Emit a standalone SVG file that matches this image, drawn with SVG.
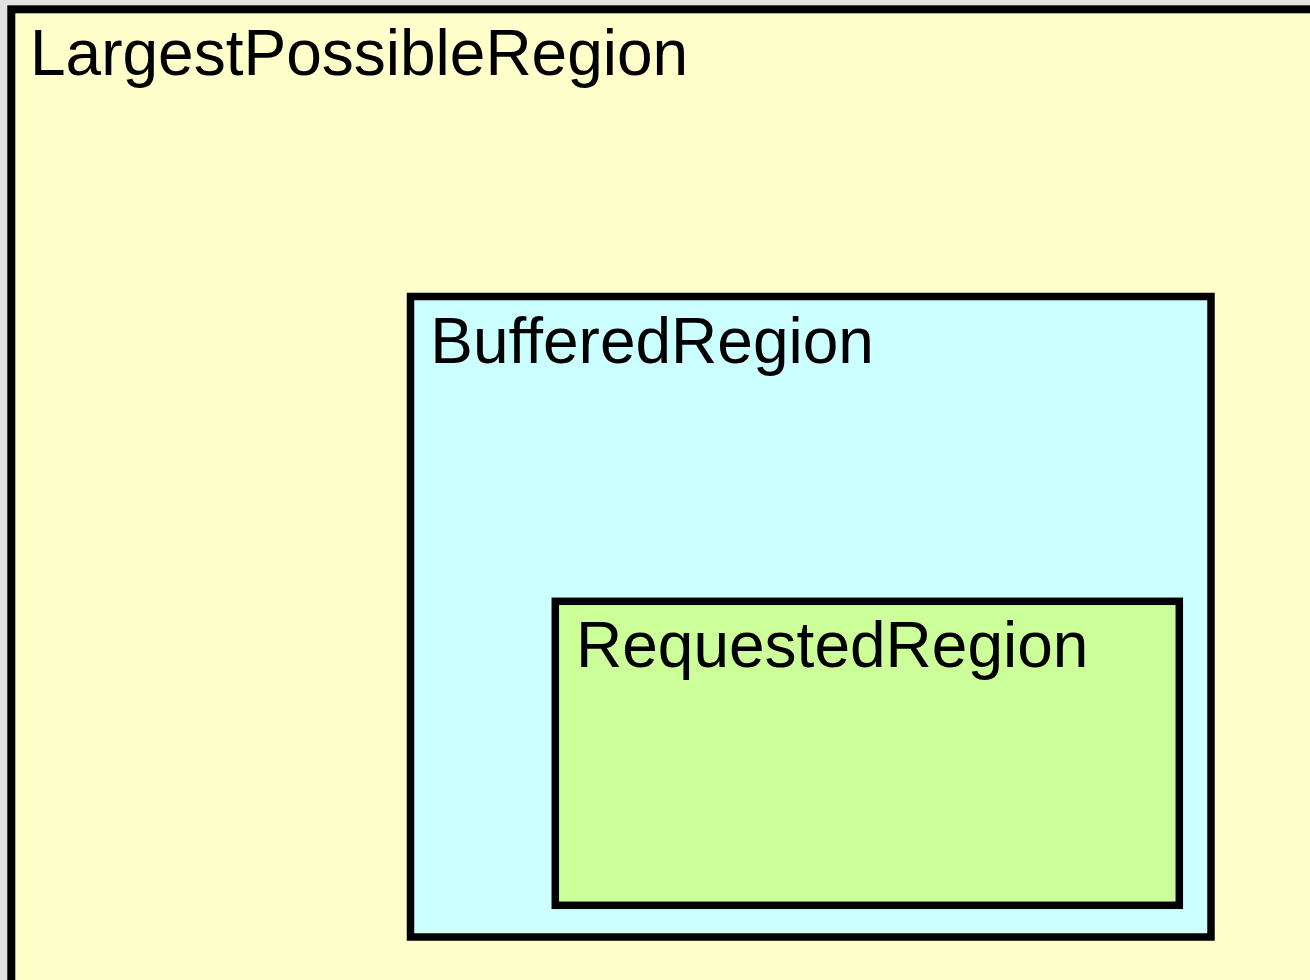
<svg xmlns="http://www.w3.org/2000/svg" width="1310" height="980" viewBox="0 0 1310 980">
  <style>
    .frame { stroke: #000000; }
    .label { font-family: "Liberation Sans", Arial, sans-serif; font-size: 64px; fill: #000000; }
  </style>
  <rect x="0" y="0" width="1310" height="980" fill="#e2e2e2"/>
  <g id="largest-possible-region">
    <rect class="frame" x="11.3" y="9.3" width="1400" height="1100" fill="#ffffcc" stroke-width="8"/>
    <text class="label" x="30" y="75">LargestPossibleRegion</text>
  </g>
  <g id="buffered-region">
    <rect class="frame" x="410.5" y="296.5" width="800.5" height="640.5" fill="#ccffff" stroke-width="7.5"/>
    <text class="label" x="430.3" y="363">BufferedRegion</text>
  </g>
  <g id="requested-region">
    <rect class="frame" x="555.3" y="601.3" width="624" height="304" fill="#ccff99" stroke-width="7.5"/>
    <text class="label" x="576" y="667">RequestedRegion</text>
  </g>
  <g id="connectors"/>
</svg>
